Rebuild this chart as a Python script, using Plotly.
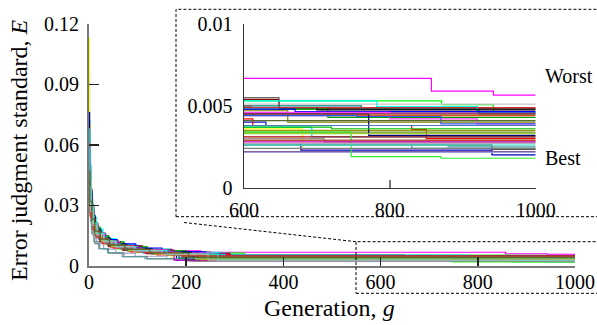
import plotly.graph_objects as go

# ---------------- data: step-wise convergence of 43 runs ----------------
colors = ["#ff00ff", "#00ff00", "#c8c8c8", "#8b0000", "#696969", "#00ffff", "#008080",
          "#00a000", "#000000", "#0000ff", "#800080", "#808000", "#e0502a", "#ff40ff",
          "#3355ff", "#1010d0", "#ff0000", "#ffff00", "#999900", "#6b8e23", "#00d8e8",
          "#999999", "#000080", "#b00000", "#2f8f8f", "#202020", "#0000c0", "#8060a0",
          "#a0a0d8", "#33ee33", "#808080", "#5f9ea0", "#a0522d", "#00c000", "#006400",
          "#c000c0", "#ff3030", "#4682b4", "#9acd32", "#cc3333", "#40e0d0", "#b0b0b0",
          "#556b2f"]

r01_g = [0, 2, 5, 9, 16, 28, 47, 85, 140, 230, 857, 942, 1000]
r01_e = [0.058, 0.041, 0.029, 0.021, 0.016, 0.012, 0.0098, 0.0083, 0.0074, 0.00668, 0.0059, 0.00565, 0.00565]
r02_g = [0, 3, 7, 13, 24, 42, 70, 118, 190, 320, 871, 942, 1000]
r02_e = [0.045, 0.032, 0.024, 0.019, 0.0145, 0.0118, 0.0092, 0.0074, 0.0062, 0.0053, 0.00508, 0.0046, 0.0046]
r03_g = [0, 1, 4, 8, 14, 26, 50, 95, 160, 280, 1000]
r03_e = [0.036, 0.027, 0.021, 0.017, 0.0135, 0.011, 0.0089, 0.0072, 0.0061, 0.0051, 0.0051]
r04_g = [0, 2, 6, 11, 20, 36, 64, 110, 170, 250, 648, 1000]
r04_e = [0.062, 0.038, 0.026, 0.019, 0.015, 0.012, 0.0098, 0.0081, 0.0068, 0.0054, 0.00485, 0.00485]
r05_g = [0, 3, 8, 15, 27, 48, 80, 125, 205, 648, 1000]
r05_e = [0.049, 0.031, 0.022, 0.017, 0.013, 0.0104, 0.0086, 0.0071, 0.0055, 0.0048, 0.0048]
r06_g = [0, 2, 4, 8, 15, 29, 55, 98, 165, 270, 782, 920, 1000]
r06_e = [0.072, 0.05, 0.033, 0.024, 0.018, 0.0135, 0.0105, 0.0083, 0.0066, 0.0053, 0.00495, 0.0046, 0.0046]
r07_g = [0, 1, 3, 7, 13, 24, 45, 82, 140, 240, 761, 922, 1000]
r07_e = [0.095, 0.06, 0.036, 0.025, 0.018, 0.0135, 0.0102, 0.0079, 0.0063, 0.0050, 0.00478, 0.0045, 0.0045]
r08_g = [0, 2, 6, 12, 22, 40, 72, 120, 200, 715, 1000]
r08_e = [0.052, 0.035, 0.025, 0.019, 0.015, 0.0118, 0.0093, 0.0074, 0.0048, 0.0043, 0.0043]
r09_g = [0, 3, 7, 14, 26, 44, 78, 130, 225, 700, 1000]
r09_e = [0.041, 0.028, 0.021, 0.016, 0.0128, 0.0103, 0.0084, 0.0068, 0.0049, 0.00475, 0.00475]
r10_g = [0, 1, 3, 6, 11, 19, 33, 58, 96, 150, 240, 670, 1000]
r10_e = [0.077, 0.055, 0.037, 0.027, 0.02, 0.016, 0.013, 0.0108, 0.0088, 0.0069, 0.0048, 0.00465, 0.00465]
r11_g = [0, 2, 5, 10, 18, 34, 60, 105, 175, 290, 1000]
r11_e = [0.07, 0.044, 0.03, 0.021, 0.016, 0.0125, 0.0099, 0.0077, 0.0061, 0.00455, 0.00455]
r12_g = [0, 2, 6, 12, 23, 41, 70, 115, 190, 660, 1000]
r12_e = [0.038, 0.028, 0.021, 0.0165, 0.013, 0.0105, 0.0085, 0.0068, 0.0047, 0.0040, 0.0040]
r13_g = [0, 3, 8, 16, 30, 54, 92, 150, 260, 1000]
r13_e = [0.047, 0.03, 0.021, 0.016, 0.0125, 0.0098, 0.0078, 0.006, 0.0044, 0.0044]
r14_g = [0, 2, 5, 10, 19, 35, 62, 100, 160, 255, 800, 920, 1000]
r14_e = [0.056, 0.038, 0.027, 0.02, 0.0155, 0.012, 0.0095, 0.0077, 0.0062, 0.0046, 0.0042, 0.0039, 0.0039]
r15_g = [0, 1, 4, 9, 17, 31, 56, 97, 165, 280, 755, 870, 1000]
r15_e = [0.064, 0.042, 0.028, 0.02, 0.015, 0.0115, 0.0091, 0.0072, 0.0057, 0.0044, 0.00435, 0.0039, 0.0039]
r16_g = [0, 2, 5, 11, 21, 39, 68, 112, 185, 630, 1000]
r16_e = [0.043, 0.03, 0.022, 0.017, 0.013, 0.0102, 0.0081, 0.0064, 0.0040, 0.0038, 0.0038]
r17_g = [0, 2, 6, 12, 21, 38, 65, 108, 180, 290, 612, 830, 850, 1000]
r17_e = [0.05, 0.034, 0.024, 0.018, 0.014, 0.0112, 0.0089, 0.0071, 0.0056, 0.0042, 0.0038, 0.00355, 0.0030, 0.0030]
r18_g = [0, 1, 2, 5, 10, 18, 33, 60, 100, 170, 680, 1000]
r18_e = [0.113, 0.07, 0.04, 0.027, 0.019, 0.014, 0.011, 0.0085, 0.0066, 0.0036, 0.0022, 0.0022]
r19_g = [0, 3, 7, 14, 25, 45, 78, 128, 215, 1000]
r19_e = [0.033, 0.025, 0.019, 0.0148, 0.0117, 0.0093, 0.0074, 0.0058, 0.0035, 0.0035]
r20_g = [0, 2, 6, 12, 22, 40, 70, 118, 200, 1000]
r20_e = [0.046, 0.031, 0.022, 0.0165, 0.0128, 0.01, 0.0079, 0.0061, 0.0034, 0.0034]
r21_g = [0, 2, 5, 10, 19, 35, 62, 105, 170, 280, 693, 1000]
r21_e = [0.06, 0.04, 0.028, 0.02, 0.015, 0.0115, 0.009, 0.0071, 0.0055, 0.0037, 0.0031, 0.0031]
r22_g = [0, 3, 8, 15, 28, 50, 85, 140, 230, 710, 1000]
r22_e = [0.04, 0.027, 0.02, 0.0155, 0.012, 0.0095, 0.0075, 0.0058, 0.0030, 0.0028, 0.0028]
r23_g = [0, 1, 3, 7, 13, 24, 43, 75, 125, 205, 771, 1000]
r23_e = [0.076, 0.05, 0.033, 0.024, 0.018, 0.0138, 0.0108, 0.0085, 0.0067, 0.0045, 0.0032, 0.0032]
r24_g = [0, 2, 6, 12, 22, 40, 70, 118, 195, 1000]
r24_e = [0.039, 0.027, 0.02, 0.0155, 0.012, 0.0095, 0.0076, 0.006, 0.0031, 0.0031]
r25_g = [0, 2, 5, 10, 18, 32, 58, 100, 165, 270, 830, 1000]
r25_e = [0.066, 0.043, 0.029, 0.021, 0.0158, 0.0122, 0.0095, 0.0074, 0.0058, 0.0027, 0.0024, 0.0024]
r26_g = [0, 3, 7, 13, 24, 43, 75, 125, 210, 940, 1000]
r26_e = [0.048, 0.032, 0.023, 0.0175, 0.0135, 0.0105, 0.0083, 0.0065, 0.0026, 0.00235, 0.00235]
r27_g = [0, 2, 5, 10, 19, 36, 64, 108, 180, 678, 940, 1000]
r27_e = [0.055, 0.036, 0.025, 0.019, 0.0145, 0.0112, 0.0088, 0.0069, 0.0027, 0.0023, 0.0020, 0.0020]
r28_g = [0, 2, 6, 12, 23, 42, 74, 125, 210, 1000]
r28_e = [0.044, 0.03, 0.021, 0.016, 0.0125, 0.0098, 0.0077, 0.006, 0.0022, 0.0022]
r29_g = [0, 3, 8, 16, 30, 55, 95, 160, 260, 1000]
r29_e = [0.035, 0.022, 0.015, 0.011, 0.0082, 0.0062, 0.0047, 0.0035, 0.00215, 0.00215]
r30_g = [0, 2, 5, 10, 18, 33, 58, 98, 160, 260, 747, 870, 1000]
r30_e = [0.054, 0.036, 0.025, 0.0185, 0.014, 0.0108, 0.0084, 0.0066, 0.0052, 0.0034, 0.0019, 0.0018, 0.0018]
r31_g = [0, 2, 6, 12, 22, 40, 72, 120, 200, 1000]
r31_e = [0.042, 0.025, 0.016, 0.011, 0.0085, 0.0062, 0.0045, 0.0034, 0.0024, 0.0024]
r32_g = [0, 2, 5, 10, 20, 38, 68, 115, 190, 880, 1000]
r32_e = [0.058, 0.03, 0.018, 0.012, 0.0085, 0.0065, 0.0045, 0.0035, 0.0026, 0.0025, 0.0025]
r33_g = [0, 3, 7, 14, 26, 47, 82, 135, 225, 1000]
r33_e = [0.037, 0.026, 0.0195, 0.015, 0.0118, 0.0093, 0.0074, 0.0058, 0.0045, 0.0045]
r34_g = [0, 2, 5, 11, 20, 37, 66, 112, 185, 720, 1000]
r34_e = [0.051, 0.034, 0.024, 0.018, 0.0138, 0.0107, 0.0084, 0.0066, 0.0037, 0.0036, 0.0036]
r35_g = [0, 2, 6, 12, 22, 41, 72, 122, 205, 1000]
r35_e = [0.045, 0.031, 0.022, 0.0167, 0.013, 0.0102, 0.008, 0.0063, 0.0029, 0.0029]
r36_g = [0, 2, 5, 10, 19, 35, 62, 105, 175, 1000]
r36_e = [0.061, 0.039, 0.027, 0.02, 0.015, 0.0116, 0.009, 0.007, 0.0028, 0.0028]
r37_g = [0, 3, 8, 15, 28, 50, 86, 140, 230, 1000]
r37_e = [0.034, 0.024, 0.018, 0.014, 0.011, 0.0087, 0.0069, 0.0054, 0.0029, 0.0029]
r38_g = [0, 2, 5, 10, 19, 36, 64, 110, 185, 1000]
r38_e = [0.057, 0.037, 0.026, 0.019, 0.0145, 0.011, 0.0086, 0.0067, 0.0038, 0.0038]
r39_g = [0, 3, 7, 14, 26, 47, 82, 135, 220, 1000]
r39_e = [0.043, 0.029, 0.021, 0.016, 0.0123, 0.0096, 0.0076, 0.0059, 0.0033, 0.0033]
r40_g = [0, 2, 6, 11, 21, 39, 68, 115, 190, 1000]
r40_e = [0.05, 0.033, 0.023, 0.0175, 0.0134, 0.0104, 0.0082, 0.0065, 0.0049, 0.0049]
r41_g = [0, 2, 5, 9, 17, 31, 56, 96, 160, 265, 1000]
r41_e = [0.068, 0.044, 0.03, 0.021, 0.016, 0.0122, 0.0095, 0.0075, 0.0058, 0.0026, 0.0026]
r42_g = [0, 3, 8, 16, 30, 54, 92, 150, 245, 1000]
r42_e = [0.039, 0.027, 0.02, 0.0153, 0.0118, 0.0093, 0.0073, 0.0057, 0.0027, 0.0027]
r43_g = [0, 2, 6, 12, 23, 42, 74, 125, 205, 1000]
r43_e = [0.047, 0.032, 0.023, 0.0172, 0.0132, 0.0103, 0.0081, 0.0063, 0.0041, 0.0041]

runs_g = [r01_g, r02_g, r03_g, r04_g, r05_g, r06_g, r07_g, r08_g, r09_g, r10_g, r11_g, r12_g,
          r13_g, r14_g, r15_g, r16_g, r17_g, r18_g, r19_g, r20_g, r21_g, r22_g, r23_g, r24_g,
          r25_g, r26_g, r27_g, r28_g, r29_g, r30_g, r31_g, r32_g, r33_g, r34_g, r35_g, r36_g,
          r37_g, r38_g, r39_g, r40_g, r41_g, r42_g, r43_g]
runs_e = [r01_e, r02_e, r03_e, r04_e, r05_e, r06_e, r07_e, r08_e, r09_e, r10_e, r11_e, r12_e,
          r13_e, r14_e, r15_e, r16_e, r17_e, r18_e, r19_e, r20_e, r21_e, r22_e, r23_e, r24_e,
          r25_e, r26_e, r27_e, r28_e, r29_e, r30_e, r31_e, r32_e, r33_e, r34_e, r35_e, r36_e,
          r37_e, r38_e, r39_e, r40_e, r41_e, r42_e, r43_e]

main_xticks = [0, 200, 400, 600, 800, 1000]
main_yticks = [0, 0.03, 0.06, 0.09, 0.12]
main_yticktext = ["0", "0.03", "0.06", "0.09", "0.12"]
inset_xticks = [600, 800, 1000]
inset_yticks = [0, 0.005, 0.01]
inset_yticktext = ["0", "0.005", "0.01"]

FONT = "Liberation Serif, Times New Roman, serif"
W, H = 597, 325

fig = go.Figure()
for i in range(len(runs_g)):
    for xa, ya in (("x", "y"), ("x2", "y2")):
        fig.add_trace(go.Scatter(
            x=runs_g[i], y=runs_e[i], mode="lines", line_shape="hv",
            line=dict(color=colors[i], width=1.2), xaxis=xa, yaxis=ya,
            showlegend=False, hoverinfo="skip"))

def px_x(p):
    return p / W

def px_y(p):
    return (H - p) / H

axis_common = dict(showgrid=False, zeroline=False, showline=True, automargin=False,
                   ticks="inside", tickfont=dict(family=FONT, size=20, color="black"))

fig.update_layout(
    width=W, height=H, autosize=False,
    margin=dict(l=0, r=0, t=0, b=0, pad=0, autoexpand=False),
    paper_bgcolor="white", plot_bgcolor="white",
    font=dict(family=FONT, color="black"),
    xaxis=dict(domain=[px_x(89), px_x(575)], range=[0, 1000], anchor="y",
               tickvals=main_xticks, ticktext=[str(v) for v in main_xticks],
               linecolor="#7a7a7a", linewidth=2, tickcolor="#222", ticklen=9, tickwidth=1.5,
               ticklabelstandoff=-3, **axis_common),
    yaxis=dict(domain=[px_y(265.7), px_y(24)], range=[0, 0.12], anchor="x",
               tickvals=main_yticks, ticktext=main_yticktext,
               linecolor="#7a7a7a", linewidth=2, tickcolor="#222", ticklen=10, tickwidth=1.5,
               ticklabelstandoff=4, **axis_common),
    xaxis2=dict(domain=[px_x(244), px_x(535.7)], range=[600, 1000], anchor="y2",
                tickvals=inset_xticks, ticktext=[str(v) for v in inset_xticks],
                linecolor="#333", linewidth=1.5, tickcolor="#777", ticklen=8, tickwidth=1.5,
                ticklabelstandoff=4, **axis_common),
    yaxis2=dict(domain=[px_y(187.7), px_y(24)], range=[0, 0.01], anchor="x2",
                tickvals=inset_yticks, ticktext=inset_yticktext,
                linecolor="#333", linewidth=1.5, tickcolor="#777", ticklen=8, tickwidth=1.5,
                ticklabelstandoff=6, **axis_common),
)

dash = dict(color="black", width=1, dash="3px,2px")
# inset frame
fig.add_shape(type="rect", xref="paper", yref="paper",
              x0=px_x(176), x1=px_x(620), y0=px_y(216.7), y1=px_y(9.3), line=dash)
# zoom region frame on main axes
fig.add_shape(type="rect", xref="paper", yref="paper",
              x0=px_x(356), x1=px_x(620), y0=px_y(293.3), y1=px_y(241.7), line=dash)
# connector
fig.add_shape(type="line", xref="paper", yref="paper",
              x0=px_x(184), y0=px_y(222.5), x1=px_x(356), y1=px_y(241.7), line=dash)

fig.add_annotation(text="Generation, <i>g</i>", xref="paper", yref="paper",
                   x=px_x(330), y=px_y(308), xanchor="center", yanchor="middle", showarrow=False,
                   font=dict(family=FONT, size=24, color="black"))
fig.add_annotation(text="Error judgment standard, <i>E</i>", xref="paper", yref="paper",
                   x=px_x(19), y=px_y(150), xanchor="center", yanchor="middle",
                   showarrow=False, textangle=-90,
                   font=dict(family=FONT, size=24, color="black"))
fig.add_annotation(text="Worst", xref="paper", yref="paper", x=px_x(543), y=px_y(76),
                   xanchor="left", yanchor="middle", showarrow=False,
                   font=dict(family=FONT, size=20, color="black"))
fig.add_annotation(text="Best", xref="paper", yref="paper", x=px_x(543), y=px_y(158),
                   xanchor="left", yanchor="middle", showarrow=False,
                   font=dict(family=FONT, size=20, color="black"))

fig.write_html("out.html", config={"displayModeBar": False, "staticPlot": True},
               post_script="document.body.style.margin='0px';")
